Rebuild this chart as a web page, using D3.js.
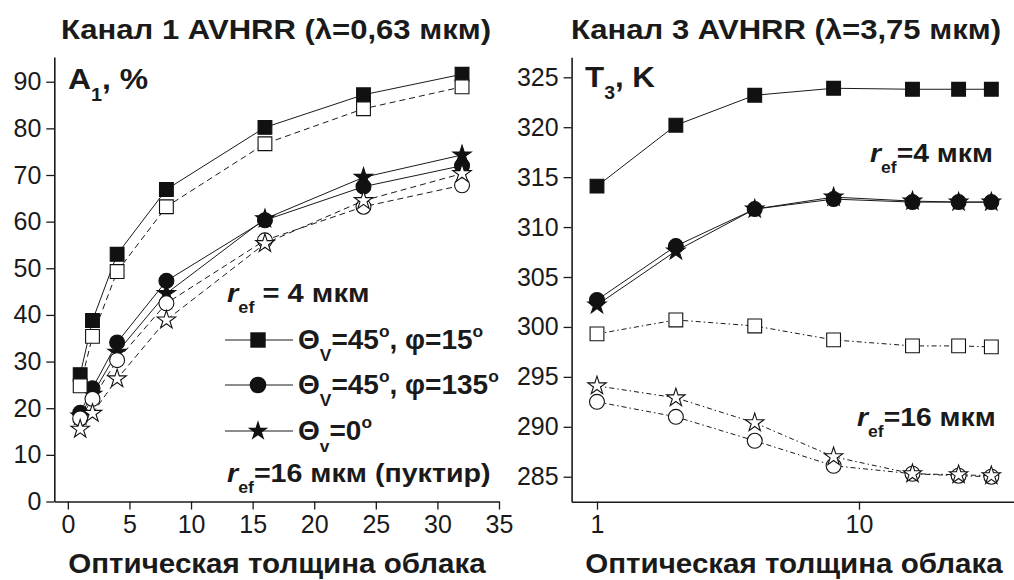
<!DOCTYPE html>
<html>
<head>
<meta charset="utf-8">
<script src="https://cdn.jsdelivr.net/npm/d3@7"></script>
<style>
  body { margin: 0; background: #fff; }
  svg text { font-family: "Liberation Sans", Arial, sans-serif; fill: #1a1a1a; }
  .axis path, .axis line { stroke: #1a1a1a; }
  .axis text { font-size: 25px; fill: #1a1a1a; font-family: "Liberation Sans", Arial, sans-serif; }
</style>
</head>
<body>
<div id="chart"></div>
<script>
// optical thickness of the cloud (x values, both panels)
const tau = [1, 2, 4, 8, 16, 24, 32];

// channel 1, albedo A1 in %
const a1SqFilled   = [27.2, 38.8, 53.0, 66.9, 80.2, 87.2, 91.6];
const a1StarFilled = [18.3, 23.0, 32.0, 44.6, 60.6, 69.5, 74.3];
const a1CircFilled = [19.0, 24.3, 34.1, 47.3, 60.3, 67.5, 72.0];
const a1SqOpen     = [24.8, 35.4, 49.3, 63.2, 76.7, 84.2, 88.9];
const a1CircOpen   = [17.8, 22.0, 30.3, 42.5, 56.0, 63.2, 67.8];
const a1StarOpen   = [15.5, 18.9, 26.3, 38.9, 55.3, 64.5, 70.3];

// channel 3, brightness temperature T3 in K
const t3SqFilled   = [314.1, 320.2, 323.2, 323.9, 323.8, 323.8, 323.8];
const t3StarFilled = [302.2, 307.6, 311.8, 313.0, 312.6, 312.5, 312.5];
const t3CircFilled = [302.7, 308.1, 311.8, 312.8, 312.5, 312.5, 312.5];
const t3SqOpen     = [299.3, 300.7, 300.1, 298.7, 298.1, 298.1, 298.0];
const t3CircOpen   = [292.5, 291.0, 288.6, 286.1, 285.3, 285.1, 285.0];
const t3StarOpen   = [294.1, 292.9, 290.4, 287.0, 285.3, 285.2, 285.1];

// tick values
const leftXTicks = [0, 5, 10, 15, 20, 25, 30, 35];
const leftYTicks = [0, 10, 20, 30, 40, 50, 60, 70, 80, 90];
const rightXTicks = [1, 10];
const rightYTicks = [285, 290, 295, 300, 305, 310, 315, 320, 325];

const svg = d3.select("#chart").append("svg")
    .attr("width", 1014)
    .attr("height", 580);

const symbols = {
    square: { type: d3.symbolSquare, size: 190 },
    circle: { type: d3.symbolCircle, size: 175 },
    star: { type: d3.symbolStar, size: 105 }
};

function drawSeries(g, x, y, vals, shape, filled, dash) {
    let pts = tau.map((t, i) => [t, vals[i]]);
    g.append("path")
        .datum(pts)
        .attr("fill", "none")
        .attr("stroke", "#1a1a1a")
        .attr("stroke-width", 1)
        .attr("stroke-dasharray", dash)
        .attr("d", d3.line().x(d => x(d[0])).y(d => y(d[1])));
    g.selectAll(null)
        .data(pts)
        .enter()
        .append("path")
        .attr("transform", d => "translate(" + x(d[0]) + "," + y(d[1]) + ")")
        .attr("d", d3.symbol().type(symbols[shape].type).size(symbols[shape].size))
        .attr("fill", filled ? "#111" : "#fff")
        .attr("stroke", "#111")
        .attr("stroke-width", 1.1);
}

// text made of parts: [string, kind] ; kind: n normal, i italic, sub, sup
// sx stretches the text sideways, the original lettering is a bit wide
function richText(g, xPos, yPos, size, parts, sx) {
    let t = g.append("text")
        .attr("transform", "translate(" + xPos + "," + yPos + ") scale(" + (sx || 1) + ",1)")
        .attr("font-weight", "bold")
        .attr("font-size", size);
    let shift = 0;
    parts.forEach(p => {
        let s = t.append("tspan").text(p[0]);
        let kind = p[1] || "n";
        let target = 0;
        if (kind === "sub") { target = size * 0.42; s.attr("font-size", size * 0.62); }
        if (kind === "sup") { target = -size * 0.42; s.attr("font-size", size * 0.62); }
        if (kind === "i") s.attr("font-style", "italic");
        s.attr("dy", target - shift);
        shift = target;
    });
    return t;
}

function addAxes(g, x, y, xTicks, yTicks, xMinor, yMinor, xFmt) {
    let xg = g.append("g").attr("class", "axis")
        .attr("transform", "translate(0," + y.range()[0] + ")");
    xg.call(d3.axisBottom(x).tickValues(xMinor).tickSize(5).tickFormat("").tickSizeOuter(0));
    xg.call(d3.axisBottom(x).tickValues(xTicks).tickSize(8).tickPadding(6).tickFormat(xFmt).tickSizeOuter(0));
    let yg = g.append("g").attr("class", "axis")
        .attr("transform", "translate(" + x.range()[0] + ",0)");
    yg.call(d3.axisLeft(y).tickValues(yMinor).tickSize(5).tickFormat("").tickSizeOuter(0));
    yg.call(d3.axisLeft(y).tickValues(yTicks).tickSize(8).tickPadding(5).tickSizeOuter(0));
    g.selectAll(".axis path").attr("stroke-width", 1.6);
    g.selectAll(".axis line").attr("stroke-width", 1.3);
}

// ---------- left panel: channel 1 ----------
let left = svg.append("g");
let x1 = d3.scaleLinear().domain([-1.1, 35]).range([54.3, 499]);
let y1 = d3.scaleLinear().domain([0, 95.3]).range([501.5, 57]);

addAxes(left, x1, y1, leftXTicks, leftYTicks,
    d3.range(-1, 35).filter(v => v % 5 !== 0),
    d3.range(5, 96, 10),
    d3.format("d"));

drawSeries(left, x1, y1, a1SqFilled, "square", true, null);
drawSeries(left, x1, y1, a1StarFilled, "star", true, null);
drawSeries(left, x1, y1, a1CircFilled, "circle", true, null);
drawSeries(left, x1, y1, a1SqOpen, "square", false, "6,4");
drawSeries(left, x1, y1, a1CircOpen, "circle", false, "6,4");
drawSeries(left, x1, y1, a1StarOpen, "star", false, "6,4");

richText(left, 276, 39, 27, [["Канал 1 AVHRR (λ=0,63 мкм)"]], 1.15).attr("text-anchor", "middle");
richText(left, 68, 89, 29, [["A"], ["1", "sub"], [", %"]], 1.1);
richText(left, 277, 573, 27, [["Оптическая толщина облака"]], 1.095).attr("text-anchor", "middle");

richText(left, 227, 302, 26, [["r", "i"], ["ef", "sub"], [" = 4 мкм"]], 1.12);

// legend
const legendItems = [
    { shape: "square", y: 340, parts: [["Θ"], ["V", "sub"], ["=45"], ["o", "sup"], [", φ=15"], ["o", "sup"]] },
    { shape: "circle", y: 385, parts: [["Θ"], ["V", "sub"], ["=45"], ["o", "sup"], [", φ=135"], ["o", "sup"]] },
    { shape: "star", y: 431, parts: [["Θ"], ["v", "sub"], ["=0"], ["o", "sup"]] }
];
legendItems.forEach(it => {
    left.append("line")
        .attr("x1", 225).attr("x2", 293)
        .attr("y1", it.y).attr("y2", it.y)
        .attr("stroke", "#1a1a1a").attr("stroke-width", 1);
    left.append("path")
        .attr("transform", "translate(258," + it.y + ")")
        .attr("d", d3.symbol().type(symbols[it.shape].type).size(symbols[it.shape].size * 1.25))
        .attr("fill", "#111");
    richText(left, 298, it.y + 9, 28, it.parts, 1);
});
richText(left, 227, 482, 26, [["r", "i"], ["ef", "sub"], ["=16 мкм (пуктир)"]], 1.1);

// ---------- right panel: channel 3 ----------
let right = svg.append("g");
let x3 = d3.scaleLog().domain([0.8, 39.5]).range([571.6, 1015.3]);
let y3 = d3.scaleLinear().domain([282.5, 327]).range([501.7, 57.3]);

addAxes(right, x3, y3, rightXTicks, rightYTicks,
    [0.9, 2, 3, 4, 5, 6, 7, 8, 9, 20, 30],
    d3.range(287.5, 327, 5),
    d3.format("d"));

drawSeries(right, x3, y3, t3SqFilled, "square", true, null);
drawSeries(right, x3, y3, t3StarFilled, "star", true, null);
drawSeries(right, x3, y3, t3CircFilled, "circle", true, null);
drawSeries(right, x3, y3, t3SqOpen, "square", false, "5,3,1.5,3");
drawSeries(right, x3, y3, t3CircOpen, "circle", false, "5,3,1.5,3");
drawSeries(right, x3, y3, t3StarOpen, "star", false, "5,3,1.5,3");

richText(right, 786, 39, 27, [["Канал 3 AVHRR (λ=3,75 мкм)"]], 1.15).attr("text-anchor", "middle");
richText(right, 585, 87, 29, [["T"], ["3", "sub"], [", K"]], 1.08);
richText(right, 794, 573, 27, [["Оптическая толщина облака"]], 1.095).attr("text-anchor", "middle");
richText(right, 870, 162, 26, [["r", "i"], ["ef", "sub"], ["=4 мкм"]], 1.09);
richText(right, 857, 426, 26, [["r", "i"], ["ef", "sub"], ["=16 мкм"]], 1.09);
</script>
</body>
</html>
